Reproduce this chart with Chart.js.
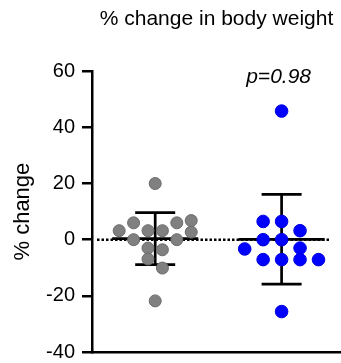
<!DOCTYPE html>
<html>
<head>
<meta charset="utf-8">
<script src="https://cdn.jsdelivr.net/npm/chart.js@4.4.0/dist/chart.umd.min.js"></script>
<style>
  html, body { margin: 0; padding: 0; background: #fff; }
  #wrap { width: 341px; height: 363px; }
</style>
</head>
<body>
<div id="wrap"><canvas id="weightChart"></canvas></div>
<script>
// values (% change in body weight)
const groups = ['Group 1', 'Group 2'];
const grayValues = [20, 6.0, 6.0, 6.8, 3.2, 3.2, 3.2, 2.7, 0, 0, -3.0, -3.6, -6.9, -10.1, -21.8];
const grayCols   = [0, -1.5, 1.5, 2.5, -2.5, -0.5, 0.5, 2.5, -1.5, 1.5, -0.5, 0.5, -0.5, 0.5, 0];
const blueValues = [45.8, 6.5, 6.5, 3.2, 0, 0, -3.0, -3.3, -7.1, -7.1, -7.1, -7.1, -25.6];
const blueCols   = [0, -1, 0, 1, -1, 0, 1, -2, -1, 0, 1, 2, 0];
const yTicks = [-40, -20, 0, 20, 40, 60];
const pLabel = 'p=0.98';

const FONT = "'Liberation Sans', Arial, sans-serif";

function toPoints(values, cols, center, step) {
    return values.map((v, i) => ({ x: center + cols[i] * step, y: v }));
}

function meanSd(values) {
    const m = values.reduce((a, b) => a + b, 0) / values.length;
    const v = values.reduce((a, b) => a + (b - m) * (b - m), 0) / (values.length - 1);
    return { mean: m, sd: Math.sqrt(v) };
}

// zero line, mean + SD bars, p value
const overlay = {
    id: 'overlay',
    beforeDatasetsDraw(chart) {
        const ctx = chart.ctx;
        const x = chart.scales.x, y = chart.scales.y;
        const area = chart.chartArea;
        ctx.save();
        ctx.strokeStyle = '#000';
        ctx.lineWidth = 2.5;
        ctx.setLineDash([2.5, 2]);
        ctx.beginPath();
        ctx.moveTo(area.left + 5, y.getPixelForValue(0));
        ctx.lineTo(area.right - 12, y.getPixelForValue(0));
        ctx.stroke();
        ctx.setLineDash([]);
        ctx.lineWidth = 2.7;
        [grayValues, blueValues].forEach((vals, gi) => {
            const s = meanSd(vals);
            const cx = x.getPixelForValue(gi + 1);
            const top = y.getPixelForValue(s.mean + s.sd);
            const bot = y.getPixelForValue(s.mean - s.sd);
            const mid = y.getPixelForValue(s.mean);
            ctx.beginPath();
            ctx.moveTo(cx, top); ctx.lineTo(cx, bot);
            ctx.moveTo(cx - 20, top); ctx.lineTo(cx + 20, top);
            ctx.moveTo(cx - 20, bot); ctx.lineTo(cx + 20, bot);
            ctx.moveTo(cx - 43, mid); ctx.lineTo(cx + 43, mid);
            ctx.stroke();
        });
        ctx.restore();
    },
    afterDatasetsDraw(chart) {
        const ctx = chart.ctx;
        const x = chart.scales.x, y = chart.scales.y;
        ctx.save();
        ctx.fillStyle = '#000';
        ctx.font = 'italic 21px ' + FONT;
        ctx.textAlign = 'center';
        ctx.textBaseline = 'middle';
        ctx.fillText(pLabel, x.getPixelForValue(2) - 3, y.getPixelForValue(58));
        ctx.restore();
    }
};

const ctx = document.getElementById('weightChart').getContext('2d');
new Chart(ctx, {
    type: 'scatter',
    data: {
        datasets: [
            {
                label: groups[0],
                data: toPoints(grayValues, grayCols, 1, 0.114),
                backgroundColor: '#808080',
                borderColor: '#6a6a6a',
                borderWidth: 1,
                pointRadius: 6
            },
            {
                label: groups[1],
                data: toPoints(blueValues, blueCols, 2, 0.146),
                backgroundColor: '#0000ff',
                borderColor: '#0000e0',
                borderWidth: 1,
                pointRadius: 6.3
            }
        ]
    },
    options: {
        responsive: true,
        maintainAspectRatio: false,
        animation: false,
        layout: { autoPadding: false, padding: { left: 0, right: 0, top: 0, bottom: 9 } },
        plugins: {
            legend: { display: false },
            tooltip: { enabled: false },
            title: {
                display: true,
                text: '% change in body weight',
                fullSize: false,
                color: '#000',
                font: { family: FONT, size: 21, weight: 'normal' },
                padding: { top: 7, bottom: 39 }
            }
        },
        scales: {
            x: {
                type: 'linear',
                min: 0.5,
                max: 2.47,
                ticks: { display: false },
                grid: { display: false },
                border: { display: true, color: '#000', width: 2.5 },
                afterFit(scale) { scale.height = 2; }
            },
            y: {
                min: -40,
                max: 60,
                afterBuildTicks(scale) { scale.ticks = yTicks.map(v => ({ value: v })); },
                ticks: {
                    color: '#000',
                    padding: 7,
                    font: { family: FONT, size: 20 }
                },
                grid: { drawOnChartArea: false, drawTicks: true, tickLength: 10, color: '#000', lineWidth: 2.5 },
                border: { display: true, color: '#000', width: 2.5 },
                title: {
                    display: true,
                    text: '% change',
                    color: '#000',
                    font: { family: FONT, size: 22 },
                    padding: { top: 10, bottom: 0 }
                },
                afterFit(scale) {
                    scale.width = 92;
                    scale.paddingTop = 0;
                    scale.paddingBottom = 0;
                }
            }
        }
    },
    plugins: [overlay]
});
</script>
</body>
</html>
